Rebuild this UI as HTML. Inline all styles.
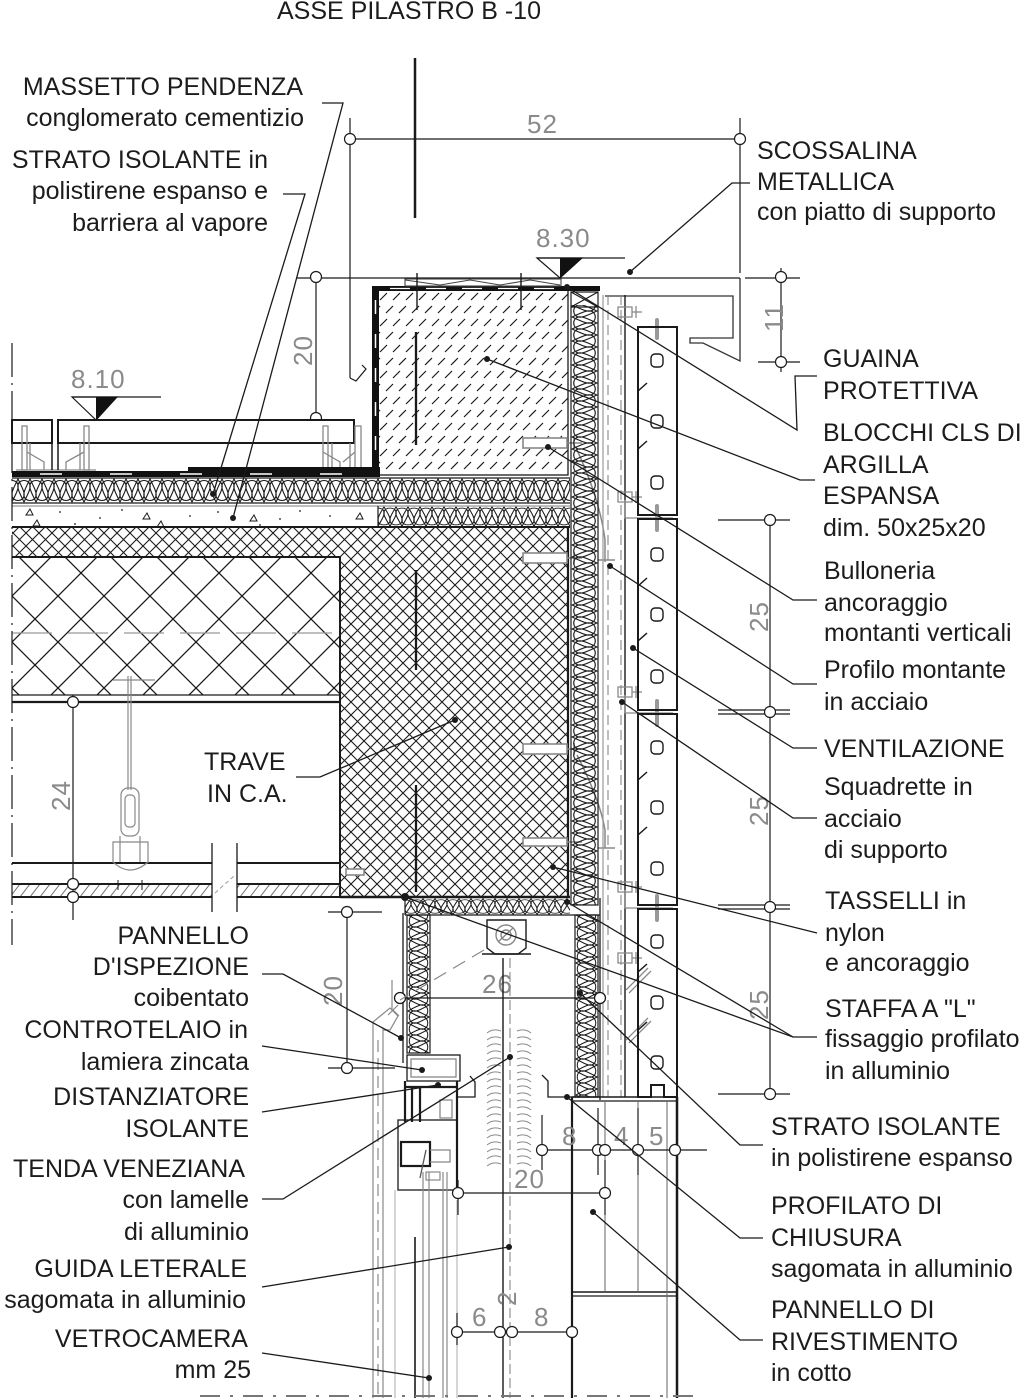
<!DOCTYPE html>
<html><head><meta charset="utf-8">
<style>
html,body{margin:0;padding:0;background:#fff;width:1024px;height:1398px;overflow:hidden}
svg{display:block}
text{font-family:"Liberation Sans",Arial,sans-serif}
.t{font-size:25px;fill:#1c1c1c}
.d{font-size:26px;fill:#8a8a8a;letter-spacing:1px}
</style></head><body>
<svg xmlns="http://www.w3.org/2000/svg" width="1024" height="1398" viewBox="0 0 1024 1398">
<defs>
<g id="ins">
<path d="M-12,24C-16,16 -19,10 -18,7C-17,1 -7,1 -6,7C-5,10 -8,16 -12,24ZM0,24C-4,16 -7,10 -6,7C-5,1 5,1 6,7C7,10 4,16 0,24ZM12,24C8,16 5,10 6,7C7,1 17,1 18,7C19,10 16,16 12,24ZM-6,1C-10,9 -13,15 -12,18C-11,24 -1,24 0,18C1,15 -2,9 -6,1ZM6,1C2,9 -1,15 0,18C1,24 11,24 12,18C13,15 10,9 6,1ZM18,1C14,9 11,15 12,18C13,24 23,24 24,18C25,15 22,9 18,1Z" fill="none" stroke="#1a1a1a" stroke-width="1.1"/>
</g>
<pattern id="sx" patternUnits="userSpaceOnUse" x="0" y="0" width="13" height="13"><path d="M0,0L13,13M13,0L0,13" stroke="#1a1a1a" stroke-width="1.1" fill="none"/></pattern>
<pattern id="bx" patternUnits="userSpaceOnUse" x="12" y="550" width="46" height="46"><path d="M0,0L46,46M46,0L0,46" stroke="#1a1a1a" stroke-width="1.3" fill="none"/></pattern>
<pattern id="w1" patternUnits="userSpaceOnUse" width="12" height="25" patternTransform="translate(12,478)"><use href="#ins"/></pattern>
<pattern id="w2" patternUnits="userSpaceOnUse" width="12" height="25" patternTransform="translate(378,506) scale(1,0.84)"><use href="#ins"/></pattern>
<pattern id="w3" patternUnits="userSpaceOnUse" width="12" height="25" patternTransform="translate(405,898) scale(1,0.68)"><use href="#ins"/></pattern>
<pattern id="v1" patternUnits="userSpaceOnUse" width="12" height="25" patternTransform="translate(598,305) rotate(90) scale(1,1.08)"><use href="#ins"/></pattern>
<pattern id="v2" patternUnits="userSpaceOnUse" width="12" height="25" patternTransform="translate(430,915) rotate(90) scale(1,0.92)"><use href="#ins"/></pattern>
<pattern id="v3" patternUnits="userSpaceOnUse" width="12" height="25" patternTransform="translate(598,915) rotate(90) scale(1,0.92)"><use href="#ins"/></pattern>
<pattern id="bh" patternUnits="userSpaceOnUse" x="377" y="290" width="26" height="26"><path d="M3,10L10,3M16,10L23,3M9,23L16,16M22,23L29,16M-4,23L3,16" stroke="#1a1a1a" stroke-width="1.2" fill="none"/></pattern>
<pattern id="dh" patternUnits="userSpaceOnUse" x="0" y="884" width="10" height="13"><path d="M0,13L10,0" stroke="#777" stroke-width="1" fill="none"/></pattern>
<pattern id="sl" patternUnits="userSpaceOnUse" x="486" y="1028" width="46" height="7"><path d="M1,5Q7,0 15,3M31,3Q39,0 45,5" stroke="#8a8a8a" stroke-width="1" fill="none"/></pattern>
</defs>

<!-- ============ TITLE & AXIS ============ -->
<text class="t" x="277" y="19">ASSE PILASTRO B -10</text>
<line x1="415" y1="58" x2="415" y2="218" stroke="#1a1a1a" stroke-width="2.5"/>

<!-- ============ DIM 52 ============ -->
<g stroke="#1a1a1a" stroke-width="1.2" fill="none">
<line x1="350" y1="139" x2="740" y2="139"/>
<line x1="350" y1="118" x2="350" y2="378"/>
<polyline points="350,378 356,381 366,369 362,365"/>
<line x1="740" y1="118" x2="740" y2="273"/>
<circle cx="350" cy="139" r="5.5" fill="#fff"/>
<circle cx="740" cy="139" r="5.5" fill="#fff"/>
</g>
<text class="d" x="527" y="133">52</text>

<!-- 8.30 level -->
<text class="d" x="536" y="247">8.30</text>
<g stroke="#1a1a1a" stroke-width="1.2" fill="none">
<line x1="537" y1="258" x2="625" y2="258"/>
<polygon points="537,258 560,278 582,258"/>
</g>
<polygon points="560,258 582,258 560,278" fill="#111"/>

<!-- horizontal top line & dims 20 / 11 -->
<g stroke="#1a1a1a" stroke-width="1.2" fill="none">
<line x1="296" y1="278" x2="740" y2="278"/>
<line x1="745" y1="278" x2="800" y2="278"/>
<line x1="316" y1="277" x2="316" y2="418"/>
<circle cx="316" cy="277" r="5.5" fill="#fff"/>
<circle cx="316" cy="418" r="5.5" fill="#fff"/>
<line x1="781" y1="268" x2="781" y2="372"/>
<line x1="758" y1="362" x2="800" y2="362"/>
<circle cx="781" cy="277" r="5.5" fill="#fff"/>
<circle cx="781" cy="362" r="5.5" fill="#fff"/>
</g>
<text class="d" transform="translate(312,366) rotate(-90)">20</text>
<text class="d" transform="translate(783,332) rotate(-90)">11</text>

<!-- scossalina fold on right -->
<g stroke="#333" stroke-width="1.3" fill="none">
<polyline points="740,278 740,361 703,343 690,343 690,338 733,338 733,296 605,296"/>
</g>

<!-- ============ FLOOR 8.10 ============ -->
<text class="d" x="71" y="388">8.10</text>
<g stroke="#1a1a1a" stroke-width="1.2" fill="none">
<line x1="72" y1="397" x2="161" y2="397"/>
<polygon points="72,397 96,420 117,397"/>
</g>
<polygon points="96,397 117,397 96,420" fill="#111"/>
<!-- tiles -->
<g stroke="#1a1a1a" stroke-width="2" fill="#fff">
<rect x="12" y="420" width="40" height="23"/>
<rect x="58" y="420" width="296" height="23"/>
</g>
<!-- pedestals -->
<g stroke="#888" stroke-width="1.3" fill="none">
<rect x="22" y="426" width="5" height="44"/>
<rect x="84" y="426" width="5" height="44"/>
<rect x="323" y="426" width="5" height="44"/>
<rect x="355" y="426" width="6" height="44"/>
<path d="M27,452L44,462L44,470M84,452L66,462L66,470M323,452L340,462L340,470M355,452L343,462"/>
<line x1="16" y1="470" x2="96" y2="470"/>
<line x1="318" y1="470" x2="372" y2="470"/>
<path d="M30,443V470M80,443V470M332,443V470M350,443V470"/>
</g>
<g stroke="#1a1a1a" stroke-width="1.5"><line x1="52" y1="443" x2="52" y2="470"/><line x1="58" y1="443" x2="58" y2="470"/></g>
<!-- membrane -->
<rect x="12" y="471" width="368" height="6" fill="#111"/>
<rect x="188" y="467" width="192" height="5" fill="#111"/>
<line x1="40" y1="474" x2="378" y2="474" stroke="#fff" stroke-width="1.5" stroke-dasharray="22,48"/>

<!-- insulation bands -->
<rect x="12" y="478" width="558" height="25" fill="url(#w1)"/>
<rect x="378" y="506" width="192" height="21" fill="url(#w2)"/>
<g stroke="#1a1a1a" stroke-width="1.2" fill="none">
<line x1="12" y1="478" x2="570" y2="478"/>
<line x1="12" y1="503" x2="570" y2="503"/>
<line x1="12" y1="506" x2="570" y2="506" stroke="#999"/>
<line x1="378" y1="506" x2="378" y2="527"/>
</g>
<!-- screed marks -->
<g stroke="#1a1a1a" stroke-width="1" fill="none">
<path d="M26,515l4,-6l3,6zM33,526l4,-6l3,6zM143,519l4,-6l3,6zM157,527l4,-6l3,6zM250,521l4,-6l3,6zM356,519l4,-6l3,6z"/>
</g>
<g fill="#1a1a1a">
<circle cx="60" cy="512" r="0.9"/><circle cx="100" cy="518" r="0.9"/><circle cx="122" cy="510" r="0.9"/><circle cx="190" cy="516" r="0.9"/><circle cx="218" cy="512" r="0.9"/><circle cx="280" cy="519" r="0.9"/><circle cx="300" cy="511" r="0.9"/><circle cx="330" cy="516" r="0.9"/><circle cx="75" cy="524" r="0.9"/><circle cx="260" cy="525" r="0.9"/>
</g>

<!-- ============ BLOCK CLS ============ -->
<rect x="377" y="290" width="191" height="185" fill="url(#bh)" stroke="#1a1a1a" stroke-width="1.3"/>
<rect x="372" y="287" width="7" height="190" fill="#111"/>
<line x1="375.5" y1="300" x2="375.5" y2="470" stroke="#fff" stroke-width="1.5" stroke-dasharray="14,20"/>
<rect x="372" y="286" width="228" height="5" fill="#111"/>
<line x1="390" y1="288.5" x2="560" y2="288.5" stroke="#fff" stroke-width="1.2" stroke-dasharray="20,16"/>
<g stroke="#444" stroke-width="1.1" fill="none">
<rect x="405" y="279" width="156" height="7"/>
<polyline points="405,280 440,285 470,280 500,285 530,280 560,285"/>
<line x1="417" y1="273" x2="417" y2="310" stroke="#1a1a1a" stroke-width="1.4"/>
<line x1="521" y1="273" x2="521" y2="310" stroke="#1a1a1a" stroke-width="1.4"/>
</g>
<line x1="416" y1="332" x2="416" y2="445" stroke="#1a1a1a" stroke-width="2.3"/>

<!-- ============ SLAB / BEAM ============ -->
<path d="M12,527H568V897H340V557H12Z" fill="url(#sx)"/>
<rect x="12" y="557" width="328" height="138" fill="url(#bx)"/>
<line x1="12" y1="633" x2="340" y2="633" stroke="#999" stroke-width="1.3" stroke-dasharray="40,16"/>
<g stroke="#1a1a1a" fill="none">
<line x1="12" y1="527" x2="570" y2="527" stroke-width="2"/>
<line x1="12" y1="557" x2="340" y2="557" stroke-width="2"/>
<line x1="340" y1="557" x2="340" y2="897" stroke-width="2"/>
<line x1="568" y1="527" x2="568" y2="897" stroke-width="2.2"/>
<line x1="340" y1="897" x2="570" y2="897" stroke-width="2.5"/>
<line x1="12" y1="695" x2="340" y2="695" stroke-width="1.2"/>
<line x1="12" y1="702" x2="340" y2="702" stroke-width="2.2"/>
<line x1="416" y1="570" x2="416" y2="670" stroke-width="2.3"/>
<line x1="416" y1="785" x2="416" y2="892" stroke-width="2.3"/>
</g>
<!-- anchors in beam -->
<g stroke="#888" stroke-width="1.6" fill="#fff">
<rect x="523" y="438" width="44" height="10"/>
<rect x="523" y="553" width="44" height="10"/>
<rect x="523" y="744" width="44" height="10"/>
<rect x="523" y="838" width="44" height="8"/>
<rect x="346" y="869" width="18" height="6"/>
</g>
<g stroke="#888" stroke-width="1.5" fill="none">
<path d="M567,443H582M574,437V449M567,558H582M574,552V564M567,749H582M574,743V755M567,842H582"/>
<path d="M577,450Q600,500 605,540V562M577,755Q600,800 605,830V848"/>
<path d="M598,560H615M598,848H615"/>
</g>

<!-- ceiling -->
<g stroke="#1a1a1a" fill="none">
<line x1="12" y1="863" x2="212" y2="863" stroke-width="2"/>
<line x1="237" y1="863" x2="340" y2="863" stroke-width="2"/>
</g>
<rect x="12" y="884" width="200" height="13" fill="url(#dh)"/>
<rect x="237" y="884" width="103" height="13" fill="url(#dh)"/>
<g stroke="#1a1a1a" fill="none">
<line x1="12" y1="884" x2="212" y2="884" stroke-width="2"/>
<line x1="237" y1="884" x2="340" y2="884" stroke-width="2"/>
<line x1="12" y1="897" x2="212" y2="897" stroke-width="2"/>
<line x1="237" y1="897" x2="340" y2="897" stroke-width="2"/>
<line x1="212" y1="843" x2="212" y2="912" stroke-width="1.3"/>
<line x1="237" y1="843" x2="237" y2="912" stroke-width="1.3"/>
<line x1="118" y1="880" x2="118" y2="890" stroke-width="1"/>
<line x1="142" y1="880" x2="142" y2="890" stroke-width="1"/>
</g>
<line x1="215" y1="893" x2="234" y2="876" stroke="#999" stroke-width="1" stroke-dasharray="4,3"/>
<!-- hanger -->
<g stroke="#888" stroke-width="1.2" fill="none">
<line x1="113" y1="680" x2="155" y2="680"/>
<line x1="128" y1="676" x2="128" y2="790"/>
<line x1="131" y1="676" x2="131" y2="790"/>
<rect x="121" y="788" width="18" height="48" rx="7"/>
<rect x="125" y="795" width="10" height="32" rx="4"/>
<path d="M113,842H148V862Q130,878 113,862Z"/>
<line x1="120" y1="836" x2="120" y2="862"/><line x1="140" y1="836" x2="140" y2="862"/>
</g>
<!-- dim 24 -->
<g stroke="#1a1a1a" stroke-width="1.2" fill="none">
<line x1="73" y1="695" x2="73" y2="920"/>
<circle cx="73" cy="702" r="5.5" fill="#fff"/>
<circle cx="73" cy="884" r="5.5" fill="#fff"/>
<circle cx="73" cy="897" r="5.5" fill="#fff"/>
</g>
<text class="d" transform="translate(70,811) rotate(-90)">24</text>
<!-- left boundary dash-dot -->
<line x1="12" y1="343" x2="12" y2="945" stroke="#1a1a1a" stroke-width="1.2" stroke-dasharray="34,6,2,6"/>

<!-- ============ VERTICAL INSULATION & CAVITY ============ -->
<rect x="571" y="305" width="27" height="600" fill="url(#v1)"/>
<g stroke="#1a1a1a" stroke-width="1.2" fill="none">
<rect x="571" y="292" width="27" height="613"/>
<path d="M571,292L598,307M598,292L571,307M571,307H598"/>
</g>
<g fill="none">
<line x1="603" y1="295" x2="603" y2="1097" stroke="#999" stroke-width="1.2"/>
<line x1="608" y1="295" x2="608" y2="1097" stroke="#888" stroke-width="1.1" stroke-dasharray="10,5"/>
<line x1="621" y1="295" x2="621" y2="1097" stroke="#888" stroke-width="1.1" stroke-dasharray="10,5"/>
<line x1="625" y1="295" x2="625" y2="1097" stroke="#1a1a1a" stroke-width="1.4"/>
</g>
<!-- bolts on montante -->
<g stroke="#888" stroke-width="1.3" fill="none">
<path d="M618,307h14v10h-14zM632,312h10M636,306v12"/>
<path d="M618,492h14v10h-14zM632,497h10M636,491v12"/>
<path d="M618,687h14v10h-14zM632,692h10M636,686v12"/>
<path d="M618,882h14v10h-14zM632,887h10M636,881v12"/>
<path d="M618,953h14v10h-14zM632,958h10M636,952v12"/>
<path d="M625,500V518H673M625,695V713H673M625,890V908H673"/>
<path d="M626,990l22,-22M629,993l22,-22M626,1040l22,-22M629,1043l22,-22"/>
</g>
<g stroke="#999" stroke-width="4" stroke-linecap="round">
<line x1="657" y1="320" x2="657" y2="338"/>
<line x1="657" y1="506" x2="657" y2="530"/>
<line x1="657" y1="701" x2="657" y2="725"/>
<line x1="657" y1="896" x2="657" y2="920"/>
</g>

<!-- ============ COTTO PANELS ============ -->
<g stroke="#1a1a1a" fill="none">
<rect x="638" y="327" width="39" height="188" stroke-width="2"/>
<rect x="638" y="519" width="39" height="191" stroke-width="2"/>
<rect x="638" y="714" width="39" height="191" stroke-width="2"/>
<path d="M638,909H677V1097H664V1085H651V1097H638Z" stroke-width="2"/>
<g stroke-width="1.4">
<rect x="651" y="354" width="12" height="13" rx="4"/><rect x="651" y="415" width="12" height="13" rx="4"/><rect x="651" y="476" width="12" height="13" rx="4"/>
<rect x="651" y="548" width="12" height="13" rx="4"/><rect x="651" y="608" width="12" height="13" rx="4"/><rect x="651" y="670" width="12" height="13" rx="4"/>
<rect x="651" y="741" width="12" height="13" rx="4"/><rect x="651" y="801" width="12" height="13" rx="4"/><rect x="651" y="862" width="12" height="13" rx="4"/>
<rect x="651" y="935" width="12" height="13" rx="4"/><rect x="651" y="996" width="12" height="13" rx="4"/><rect x="651" y="1056" width="12" height="13" rx="4"/>
</g>
<g stroke-width="1.5" stroke="#1a1a1a">
<path d="M638,391l9,-8M638,449l9,-8M638,586l9,-8M638,641l9,-8M638,780l9,-8M638,835l9,-8M638,972l9,-8M638,1030l9,-8"/>
</g>
</g>

<!-- ============ RIGHT DIM 25 CHAIN ============ -->
<g stroke="#1a1a1a" stroke-width="1.2" fill="none">
<line x1="770" y1="520" x2="770" y2="1094"/>
<line x1="718" y1="520" x2="790" y2="520"/>
<line x1="718" y1="710" x2="790" y2="710"/><line x1="718" y1="714" x2="790" y2="714"/>
<line x1="718" y1="905" x2="790" y2="905"/><line x1="718" y1="909" x2="790" y2="909"/>
<line x1="718" y1="1094" x2="790" y2="1094"/>
<circle cx="770" cy="520" r="5.5" fill="#fff"/>
<circle cx="770" cy="712" r="5.5" fill="#fff"/>
<circle cx="770" cy="907" r="5.5" fill="#fff"/>
<circle cx="770" cy="1094" r="5.5" fill="#fff"/>
</g>
<text class="d" transform="translate(768,632) rotate(-90)">25</text>
<text class="d" transform="translate(768,826) rotate(-90)">25</text>
<text class="d" transform="translate(768,1020) rotate(-90)">25</text>

<!-- ============ WINDOW BOX ============ -->
<rect x="405" y="898" width="165" height="17" fill="url(#w3)"/>
<g stroke="#1a1a1a" stroke-width="1.2" fill="none">
<line x1="405" y1="898" x2="405" y2="915"/>
<line x1="405" y1="915" x2="600" y2="915"/>
</g>
<rect x="407" y="915" width="23" height="138" fill="url(#v2)" stroke="#1a1a1a" stroke-width="1.2"/>
<rect x="575" y="915" width="23" height="182" fill="url(#v3)" stroke="#1a1a1a" stroke-width="1.2"/>
<g stroke="#1a1a1a" stroke-width="1.3" fill="none">
<line x1="600" y1="898" x2="600" y2="1100"/>
<line x1="403" y1="913" x2="403" y2="1063"/>
<polyline points="458,1097 475,1097 475,1082 470,1076"/>
<polyline points="542,1075 548,1081 548,1097 600,1097"/>
<line x1="400" y1="998" x2="605" y2="998"/>
<circle cx="400" cy="998" r="5.5" fill="#fff"/>
<circle cx="600" cy="998" r="5.5" fill="#fff"/>
</g>
<!-- roller -->
<g stroke="#1a1a1a" stroke-width="1.4" fill="#fff">
<path d="M487,920H526V948L518,954H495L487,948Z"/>
<circle cx="506" cy="935" r="10" stroke="#888"/>
<circle cx="506" cy="935" r="5" stroke="#888"/>
<line x1="498" y1="942" x2="513" y2="928" stroke="#888"/>
<line x1="482" y1="954" x2="531" y2="954"/>
</g>
<line x1="484" y1="950" x2="400" y2="1000" stroke="#888" stroke-width="1.2" stroke-dasharray="14,8"/>
<text class="d" x="482" y="993">26</text>
<!-- blind slats -->
<rect x="486" y="1028" width="46" height="140" fill="url(#sl)"/>
<!-- rod -->
<line x1="503" y1="958" x2="503" y2="1398" stroke="#1a1a1a" stroke-width="1.4"/>
<line x1="510" y1="958" x2="510" y2="1398" stroke="#888" stroke-width="1.1" stroke-dasharray="10,4"/>

<!-- window frame -->
<g stroke="#1a1a1a" stroke-width="1.3" fill="none">
<rect x="407" y="1055" width="53" height="26"/>
<rect x="411" y="1059" width="45" height="18" stroke="#888"/>
<path d="M405,1081V1122M405,1087H457M412,1087V1122M420,1087V1122M457,1081V1190" stroke-width="2.2"/>
<rect x="398" y="1120" width="59" height="70"/>
<rect x="401" y="1142" width="29" height="24" stroke-width="2.2"/>
<path d="M430,1150h20v12h-20M440,1100h12v18h-12z" stroke="#888"/>
<path d="M420,1178L426,1150" stroke="#555"/>
</g>
<!-- hinge / inspection panel -->
<g stroke="#888" stroke-width="1.2" fill="none">
<path d="M373,1040V1022L390,1008L398,1016L390,1030L383,1030V1040"/>
<path d="M392,980V1010M388,1015L398,1005M393,1010l6,6"/>
<line x1="373" y1="1040" x2="373" y2="1398"/>
<line x1="383" y1="1040" x2="383" y2="1398"/>
<line x1="378" y1="1040" x2="378" y2="1398" stroke-dasharray="12,6"/>
<line x1="395" y1="1190" x2="395" y2="1398" stroke="#bbb"/>
<line x1="423" y1="1172" x2="423" y2="1398"/>
<line x1="429" y1="1172" x2="429" y2="1398"/>
<line x1="443" y1="1172" x2="443" y2="1398"/>
<line x1="447" y1="1172" x2="447" y2="1398"/>
<line x1="457" y1="1200" x2="457" y2="1398" stroke="#bbb"/>
<rect x="426" y="1172" width="14" height="8"/>
</g>
<line x1="415" y1="1237" x2="415" y2="1398" stroke="#1a1a1a" stroke-width="1.6"/>

<!-- lower cotto panel -->
<g stroke="#1a1a1a" fill="none">
<line x1="572" y1="1097" x2="572" y2="1398" stroke-width="2.2"/>
<line x1="677" y1="1097" x2="677" y2="1398" stroke-width="2.5"/>
<line x1="572" y1="1097" x2="678" y2="1097" stroke-width="1.6"/>
<line x1="572" y1="1101" x2="678" y2="1101" stroke-width="1.2"/>
<line x1="572" y1="1292" x2="676" y2="1292" stroke-width="1.6"/>
<line x1="572" y1="1296" x2="676" y2="1296" stroke-width="1.2"/>
<line x1="605" y1="1101" x2="605" y2="1292" stroke="#666" stroke-width="1"/>
<line x1="638" y1="1101" x2="638" y2="1292" stroke="#666" stroke-width="1"/>
<line x1="667" y1="1101" x2="667" y2="1398" stroke="#666" stroke-width="1"/>
</g>

<!-- bottom dims -->
<g stroke="#1a1a1a" stroke-width="1.2" fill="none">
<line x1="540" y1="1150" x2="707" y2="1150"/>
<line x1="542" y1="1115" x2="542" y2="1170"/>
<line x1="598" y1="1108" x2="598" y2="1175"/>
<line x1="638" y1="1108" x2="638" y2="1175"/>
<circle cx="542" cy="1150" r="5.5" fill="#fff"/>
<circle cx="598" cy="1150" r="5.5" fill="#fff"/>
<circle cx="605" cy="1150" r="5.5" fill="#fff"/>
<circle cx="638" cy="1150" r="5.5" fill="#fff"/>
<circle cx="675" cy="1150" r="5.5" fill="#fff"/>
<line x1="458" y1="1193" x2="605" y2="1193"/>
<line x1="458" y1="1180" x2="458" y2="1215"/>
<line x1="605" y1="1160" x2="605" y2="1215"/>
<circle cx="458" cy="1193" r="5.5" fill="#fff"/>
<circle cx="605" cy="1193" r="5.5" fill="#fff"/>
<line x1="457" y1="1332" x2="572" y2="1332"/>
<line x1="457" y1="1313" x2="457" y2="1345"/>
<circle cx="457" cy="1332" r="5.5" fill="#fff"/>
<circle cx="500" cy="1332" r="5.5" fill="#fff"/>
<circle cx="512" cy="1332" r="5.5" fill="#fff"/>
<circle cx="572" cy="1332" r="5.5" fill="#fff"/>
</g>
<text class="d" x="562" y="1145">8</text>
<text class="d" x="614" y="1145">4</text>
<text class="d" x="649" y="1145">5</text>
<text class="d" x="514" y="1188">20</text>
<text class="d" x="472" y="1326">6</text>
<text class="d" x="534" y="1326">8</text>
<text class="d" transform="translate(516,1306) rotate(-90)">2</text>
<!-- left dim 20 -->
<g stroke="#1a1a1a" stroke-width="1.2" fill="none">
<line x1="347" y1="912" x2="347" y2="1068"/>
<line x1="328" y1="912" x2="382" y2="912"/>
<line x1="328" y1="1068" x2="395" y2="1068"/>
<circle cx="347" cy="912" r="5.5" fill="#fff"/>
<circle cx="347" cy="1068" r="5.5" fill="#fff"/>
</g>
<text class="d" transform="translate(342,1006) rotate(-90)">20</text>
<!-- bottom dashed line -->
<line x1="200" y1="1396" x2="700" y2="1396" stroke="#777" stroke-width="2" stroke-dasharray="20,10,3,10"/>

<!-- ============ LEADERS ============ -->
<g stroke="#1a1a1a" stroke-width="1.3" fill="none">
<polyline points="322,103 343,103 233,518"/>
<polyline points="283,194 305,194 213,494"/>
<polyline points="750,183 732,183 630,272"/>
<polyline points="817,376 795,376 797,430 567,287"/>
<polyline points="815,480 800,480 487,359"/>
<polyline points="817,600 793,600 548,447"/>
<polyline points="817,684 793,684 610,566"/>
<polyline points="817,748 793,748 633,648"/>
<polyline points="817,818 793,818 622,702"/>
<polyline points="817,933 553,867"/>
<polyline points="817,1037 793,1037 405,897"/>
<polyline points="793,1037 567,902"/>
<polyline points="763,1145 740,1145 580,993"/>
<polyline points="763,1238 740,1238 567,1097"/>
<polyline points="763,1340 740,1340 593,1212"/>
<polyline points="262,974 283,974 401,1038"/>
<polyline points="262,1046 422,1070"/>
<polyline points="262,1112 438,1085"/>
<polyline points="262,1199 283,1199 510,1057"/>
<polyline points="262,1287 509,1247"/>
<polyline points="262,1353 429,1378"/>
<polyline points="296,777 320,777 455,720"/>
</g>
<g fill="#1a1a1a">
<circle cx="233" cy="518" r="3"/><circle cx="213" cy="494" r="3"/><circle cx="630" cy="272" r="3"/>
<circle cx="567" cy="287" r="3"/><circle cx="487" cy="359" r="3"/><circle cx="548" cy="447" r="3"/>
<circle cx="610" cy="566" r="3"/><circle cx="633" cy="648" r="3"/><circle cx="622" cy="702" r="3"/>
<circle cx="553" cy="867" r="3"/><circle cx="405" cy="897" r="4"/><circle cx="567" cy="902" r="3"/>
<circle cx="580" cy="993" r="3"/><circle cx="567" cy="1097" r="3"/><circle cx="593" cy="1212" r="3"/>
<circle cx="401" cy="1038" r="3"/><circle cx="422" cy="1070" r="3"/><circle cx="438" cy="1085" r="3"/>
<circle cx="510" cy="1057" r="3"/><circle cx="509" cy="1247" r="3"/><circle cx="429" cy="1378" r="3"/>
<circle cx="455" cy="720" r="3"/>
</g>

<!-- ============ LABELS LEFT ============ -->
<g class="t" text-anchor="end">
<text x="303" y="95">MASSETTO PENDENZA</text>
<text x="304" y="126">conglomerato cementizio</text>
<text x="268" y="168">STRATO ISOLANTE in</text>
<text x="268" y="199">polistirene espanso e</text>
<text x="268" y="231">barriera al vapore</text>
<text x="249" y="944">PANNELLO</text>
<text x="249" y="975">D'ISPEZIONE</text>
<text x="249" y="1006">coibentato</text>
<text x="248" y="1038">CONTROTELAIO in</text>
<text x="249" y="1070">lamiera zincata</text>
<text x="249" y="1105">DISTANZIATORE</text>
<text x="249" y="1137">ISOLANTE</text>
<text x="245" y="1177">TENDA VENEZIANA</text>
<text x="249" y="1208">con lamelle</text>
<text x="249" y="1240">di alluminio</text>
<text x="247" y="1277">GUIDA LETERALE</text>
<text x="246" y="1308">sagomata in alluminio</text>
<text x="248" y="1347">VETROCAMERA</text>
<text x="251" y="1378">mm 25</text>
</g>
<text class="t" x="204" y="770">TRAVE</text>
<text class="t" x="207" y="802">IN C.A.</text>

<!-- ============ LABELS RIGHT ============ -->
<g class="t">
<text x="757" y="159">SCOSSALINA</text>
<text x="757" y="190">METALLICA</text>
<text x="757" y="220">con piatto di supporto</text>
<text x="823" y="367">GUAINA</text>
<text x="823" y="399">PROTETTIVA</text>
<text x="823" y="441">BLOCCHI CLS DI</text>
<text x="823" y="473">ARGILLA</text>
<text x="823" y="504">ESPANSA</text>
<text x="823" y="536">dim. 50x25x20</text>
<text x="824" y="579">Bulloneria</text>
<text x="824" y="611">ancoraggio</text>
<text x="824" y="641">montanti verticali</text>
<text x="824" y="678">Profilo montante</text>
<text x="824" y="710">in acciaio</text>
<text x="824" y="757">VENTILAZIONE</text>
<text x="824" y="795">Squadrette in</text>
<text x="824" y="827">acciaio</text>
<text x="824" y="858">di supporto</text>
<text x="825" y="909">TASSELLI in</text>
<text x="825" y="941">nylon</text>
<text x="825" y="971">e ancoraggio</text>
<text x="825" y="1017">STAFFA A "L"</text>
<text x="825" y="1047">fissaggio profilato</text>
<text x="825" y="1079">in alluminio</text>
<text x="771" y="1135">STRATO ISOLANTE</text>
<text x="771" y="1166">in polistirene espanso</text>
<text x="771" y="1214">PROFILATO DI</text>
<text x="771" y="1246">CHIUSURA</text>
<text x="771" y="1277">sagomata in alluminio</text>
<text x="771" y="1318">PANNELLO DI</text>
<text x="771" y="1350">RIVESTIMENTO</text>
<text x="771" y="1381">in cotto</text>
</g>
</svg>
</body></html>
